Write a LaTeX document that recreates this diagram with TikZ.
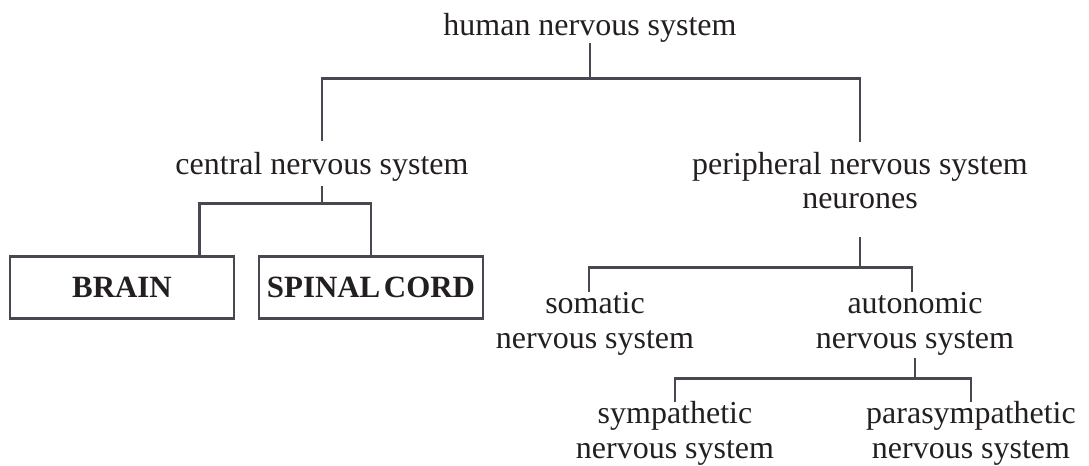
\documentclass[tikz,border=0pt]{standalone}
\usepackage{fontspec}
\setmainfont{Liberation Serif}
\usetikzlibrary{positioning,calc}
\definecolor{nsLine}{RGB}{72,72,80}
\definecolor{nsText}{RGB}{35,31,32}

\begin{document}
\begin{tikzpicture}[
  x=0.02cm, y=-0.02cm,
  font=\fontsize{18.2}{19.5}\selectfont, text=nsText,
  lbl/.style={align=center, inner sep=0pt, anchor=base},
  organ/.style={draw=nsLine, line width=1.5pt, minimum width=4.48cm, minimum height=1.24cm, inner sep=0pt, font=\fontsize{17.6}{20}\selectfont\bfseries},
  link/.style={draw=nsLine, line width=1.5pt},
]
\useasboundingbox (0,0) rectangle (1089,466);
% labels (base = last line)
\node[lbl] (human) at (590,36) {human nervous system};
\node[lbl] (cns) at (322,174) {central nervous system};
\node[lbl] (pns) at (860,209) {peripheral nervous system\\neurones};
\node[organ] (brain) at (122,287.5) {BRAIN};
\node[organ] (cord) at (371,287.5) {SPINAL\hspace{0.12em}CORD};
\node[lbl] (somatic) at (595,348) {somatic\\nervous system};
\node[lbl] (auto) at (915,348) {autonomic\\nervous system};
\node[lbl] (symp) at (675,458) {sympathetic\\nervous system};
\node[lbl] (para) at (971,458) {parasympathetic\\nervous system};
% top branch
\draw[link] (human.south) -- ++(0,35) coordinate (j1);
\draw[link] ($(cns.north)+(0,-10)$) |- (j1) -| ($(pns.north)+(0,-10)$);
% central branch
\draw[link] ($(cns.south)+(0,5)$) -- ++(0,17) coordinate (j2);
\draw[link] ($(brain.north east)+(-36,0)$) |- (j2) -| (cord.north);
% peripheral branch
\draw[link] ($(pns.south)+(0,27)$) -- ++(0,31) coordinate (j3);
\draw[link] ($(somatic.north)+(-6,0)$) |- (j3) -| ($(auto.north)+(-3,0)$);
% autonomic branch
\draw[link] ($(auto.south)+(0,3)$) -- ++(0,20) coordinate (j4);
\draw[link] ($(symp.north)+(0,1)$) |- (j4) -| ($(para.north)+(0,1)$);
\end{tikzpicture}
\end{document}
